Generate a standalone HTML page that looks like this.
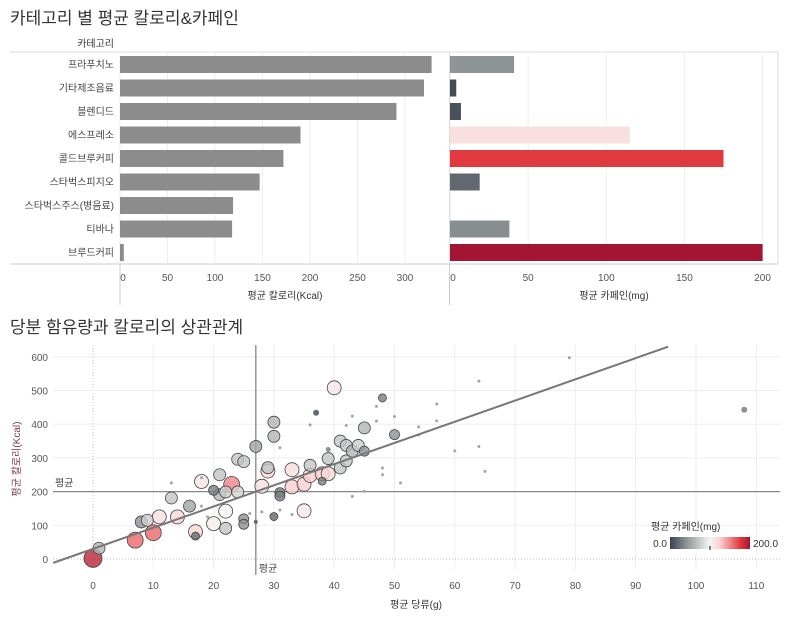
<!DOCTYPE html>
<html><head><meta charset="utf-8">
<style>
body{margin:0;background:#fff;font-family:"Liberation Sans","Noto Sans CJK KR",sans-serif;}
svg text{font-family:"Liberation Sans","Noto Sans CJK KR",sans-serif;}
</style></head>
<body>
<svg id="c" width="799" height="627" xmlns="http://www.w3.org/2000/svg">
<text x="10" y="24" font-size="17" fill="#333">카테고리 별 평균 칼로리&amp;카페인</text>
<text x="10" y="333" font-size="17" fill="#333">당분 함유량과 칼로리의 상관관계</text>
<g id="bars"></g>
<g id="scatter"></g>
</svg>
<script>
const categories=["프라푸치노","기타제조음료","블렌디드","에스프레소","콜드브루커피","스타벅스피지오","스타벅스주스(병음료)","티바나","브루드커피"];
const calories=[328,320,291,190,172,147,119,118,4];
const caffeine=[41,4,7,115,175,19,0,38,200];
const calTicks=[0,50,100,150,200,250,300];
const cafTicks=[0,50,100,150,200];

const sugar=[0,1,7,10,8,9,11,14,13,16,17,17,18,20,20,21,21,22,22,23,22,24,25,24,25,25,27,28,30,30,29,29,31,31,30,33,33,35,35,36,36,38,39,38,39,41,41,42,42,43,44,45,45,40,48,50,37,
13,18,18,31,36,43,42,47,47,50,48,48,51,43,45,26,27,28,31,33,39,19,57,57,54,54,60,64,64,65,79,108];
const kcal=[2,32,56,78,110,115,125,125,181,157,81,68,230,105,204,250,191,91,142,221,199,296,289,199,119,103,334,216,406,364,261,271,197,187,126,265,214,222,143,278,248,253,253,231,298,270,350,337,291,320,337,389,320,508,478,369,434,
226,241,157,330,398,424,396,453,409,423,270,250,226,186,201,135,110,140,145,132,325,125,460,410,392,368,321,528,334,260,597,443];
const pointCaf=[190,60,160,160,40,75,115,120,70,50,120,20,110,105,30,70,60,70,100,150,75,70,70,80,40,40,50,115,60,60,120,70,30,30,20,115,125,125,110,70,125,125,120,30,70,70,70,70,70,60,75,60,40,110,30,40,20,
50,50,50,50,50,50,50,50,50,50,50,50,50,50,50,50,20,50,50,50,40,50,50,50,50,50,50,50,50,50,50,40];
const pointR=[9,6,8,8,6,6,7,7,6,6,7,4,7,7,5,6,6,6,7,8,6,6,6,6,5,5,6,7,6,6,7,6,5,5,4,7,7,7,7,6,7,7,7,4,6,6,6,6,6,6,6,6,5,7,4,5,3,
1.5,1.5,1.5,1.5,1.5,1.5,1.5,1.5,1.5,1.5,1.5,1.5,1.5,1.5,1.5,1.5,2,1.5,1.5,1.5,2.5,1.5,1.5,1.5,1.5,1.5,1.5,1.5,1.5,1.5,1.5,3];
const xTicks=[0,10,20,30,40,50,60,70,80,90,100,110];
const yTicks=[0,100,200,300,400,500,600];
const avgSugar=27, avgKcal=200;
const trendA=30, trendB=6.29;

const NS="http://www.w3.org/2000/svg";
function mk(p,tag,at,txt){const e=document.createElementNS(NS,tag);for(const k in at)e.setAttribute(k,at[k]);if(txt!==undefined)e.textContent=txt;p.appendChild(e);return e;}
function hex(h){return [1,3,5].map(i=>parseInt(h.substr(i,2),16));}
const stops=[[0,"#3b434e"],[50,"#a0a4a5"],[100,"#f5f5f5"],[125,"#fbd0d0"],[175,"#e03a40"],[200,"#a31533"]];
function cafColor(v){v=Math.max(0,Math.min(200,v));for(let i=1;i<stops.length;i++){if(v<=stops[i][0]){const t=(v-stops[i-1][0])/(stops[i][0]-stops[i-1][0]);const a=hex(stops[i-1][1]),b=hex(stops[i][1]);return "rgb("+a.map((x,j)=>Math.round(x+(b[j]-x)*t)).join(",")+")";}}return stops[stops.length-1][1];}

// ---- bar charts
const bars=document.getElementById('bars');
const rowY=i=>56+i*23.5;
const xCal=v=>120+v*0.95;
const xCaf=v=>450+v*1.563;
mk(bars,'line',{x1:10,x2:778,y1:52,y2:52,stroke:'#ddd'});
mk(bars,'line',{x1:10,x2:778,y1:264,y2:264,stroke:'#ccc'});
mk(bars,'line',{x1:120,x2:120,y1:52,y2:305,stroke:'#ccc'});
mk(bars,'line',{x1:449.5,x2:449.5,y1:52,y2:305,stroke:'#ccc'});
mk(bars,'line',{x1:778,x2:778,y1:52,y2:264,stroke:'#ddd'});
let t=mk(bars,'text',{x:114,y:47,'font-size':10,fill:'#333','text-anchor':'end'},'카테고리');

calTicks.forEach(v=>{
  const g=mk(bars,'line',{x1:xCal(v),x2:xCal(v),y1:52,y2:264,stroke:'#eee'});
  const tx=mk(bars,'text',{x:xCal(v)+(v===0?3:0),y:281,'font-size':10,fill:'#555','text-anchor':'middle'},v);
  
  
});
cafTicks.forEach(v=>{
  mk(bars,'line',{x1:xCaf(v),x2:xCaf(v),y1:52,y2:264,stroke:'#eee'});
  const tx=mk(bars,'text',{x:xCaf(v)+(v===0?3:0),y:281,'font-size':10,fill:'#555','text-anchor':'middle'},v);
  
  
});
t=mk(bars,'text',{x:285,y:299,'font-size':10,fill:'#333','text-anchor':'middle'},'평균 칼로리(Kcal)');

t=mk(bars,'text',{x:614,y:299,'font-size':10,fill:'#333','text-anchor':'middle'},'평균 카페인(mg)');

categories.forEach((c,i)=>{
  const y=rowY(i);
  const l=mk(bars,'text',{x:114,y:y+12,'font-size':10,fill:'#444','text-anchor':'end'},c);
  
  
  const r=mk(bars,'rect',{x:120,y:y,width:xCal(calories[i])-120,height:17,fill:'#8c8c8c'});
  
  
  const r2=mk(bars,'rect',{x:450,y:y,width:xCaf(caffeine[i])-450,height:17,fill:cafColor(caffeine[i])});
  
  
});

// ---- scatter
const sc=document.getElementById('scatter');
const L=53,R=780,T=345,B=570;
const sx=v=>93+v*6.03;
const sy=v=>559-v*0.337;
xTicks.forEach(v=>{
  mk(sc,'line',{x1:sx(v),x2:sx(v),y1:T,y2:B,stroke:v===0?'#bbb':'#eee','stroke-dasharray':v===0?'1,2':''});
  const tx=mk(sc,'text',{x:sx(v),y:589,'font-size':10,fill:'#555','text-anchor':'middle'},v);
  
  
});
yTicks.forEach(v=>{
  mk(sc,'line',{x1:L,x2:R,y1:sy(v),y2:sy(v),stroke:v===0?'#bbb':'#eee','stroke-dasharray':v===0?'1,2':''});
  const tx=mk(sc,'text',{x:48,y:sy(v)+4,'font-size':10,fill:'#555','text-anchor':'end'},v);
  
  
});
t=mk(sc,'text',{x:20,y:459,'font-size':10,fill:'#7a3550','text-anchor':'middle',transform:'rotate(-90 20 459)'},'평균 칼로리(Kcal)');

t=mk(sc,'text',{x:416,y:608,'font-size':10,fill:'#333','text-anchor':'middle'},'평균 당류(g)');

// avg lines
mk(sc,'line',{x1:L,x2:R,y1:sy(avgKcal),y2:sy(avgKcal),stroke:'#888','stroke-width':1.3});
mk(sc,'line',{x1:sx(avgSugar),x2:sx(avgSugar),y1:T,y2:575,stroke:'#888','stroke-width':1.3});
t=mk(sc,'text',{x:55,y:sy(avgKcal)-5,'font-size':10,fill:'#444'},'평균');

t=mk(sc,'text',{x:sx(avgSugar)+3,y:572,'font-size':10,fill:'#444'},'평균');

// points
const order=sugar.map((_,i)=>i).sort((a,b)=>pointR[b]-pointR[a]);
order.forEach(i=>{
  const c=mk(sc,'circle',{cx:sx(sugar[i]),cy:sy(kcal[i]),r:pointR[i],fill:cafColor(pointCaf[i]),'fill-opacity':pointR[i]>3?0.8:1,stroke:pointR[i]>3?'#444':'none','stroke-width':0.8});
  
  
});
// trend line
const x0=-6.6, y1=(R>0)?( (sy(-1)) ):0;
const xEnd=(600+30-trendA)/trendB;
const tl=mk(sc,'line',{x1:sx(x0),y1:sy(trendA+trendB*x0),x2:sx(xEnd),y2:sy(trendA+trendB*xEnd),stroke:'#777','stroke-width':2});


// legend
t=mk(sc,'text',{x:651,y:530,'font-size':10,fill:'#333'},'평균 카페인(mg)');

const defs=mk(sc,'defs',{});
const gr=mk(defs,'linearGradient',{id:'lg',x1:0,x2:1,y1:0,y2:0});
stops.forEach(s=>mk(gr,'stop',{offset:(s[0]/200*100)+'%','stop-color':s[1]}));
const lb=mk(sc,'rect',{x:670,y:537,width:80,height:12,fill:'url(#lg)'});


mk(sc,'line',{x1:710,x2:710,y1:546,y2:550,stroke:'#000'});
t=mk(sc,'text',{x:667,y:547,'font-size':10,fill:'#333','text-anchor':'end'},'0.0');

t=mk(sc,'text',{x:753,y:547,'font-size':10,fill:'#333'},'200.0');

</script>
</body></html>
